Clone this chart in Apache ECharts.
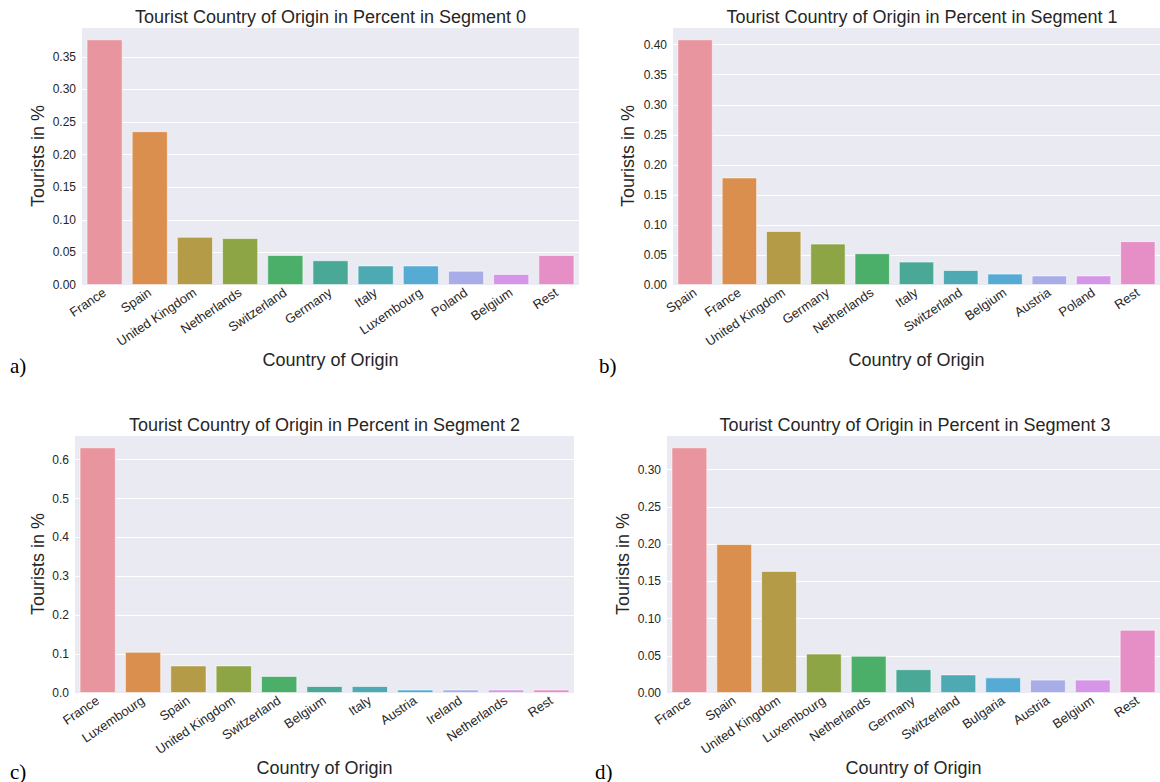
<!DOCTYPE html>
<html>
<head>
<meta charset="utf-8">
<script src="https://cdn.jsdelivr.net/npm/echarts@6/dist/echarts.min.js"></script>
<style>
  html, body { margin: 0; padding: 0; background: #ffffff; overflow: hidden; }
  #chart { width: 1160px; height: 782px; }
</style>
</head>
<body>
<div id="chart"></div>
<script>
// Share of tourists by country of origin, one bar chart per segment
const countries0 = ['France', 'Spain', 'United Kingdom', 'Netherlands', 'Switzerland', 'Germany', 'Italy', 'Luxembourg', 'Poland', 'Belgium', 'Rest'];
const share0 = [0.377, 0.236, 0.074, 0.072, 0.046, 0.038, 0.030, 0.030, 0.022, 0.017, 0.046];

const countries1 = ['Spain', 'France', 'United Kingdom', 'Germany', 'Netherlands', 'Italy', 'Switzerland', 'Belgium', 'Austria', 'Poland', 'Rest'];
const share1 = [0.409, 0.179, 0.090, 0.069, 0.053, 0.039, 0.025, 0.019, 0.016, 0.016, 0.073];

const countries2 = ['France', 'Luxembourg', 'Spain', 'United Kingdom', 'Switzerland', 'Belgium', 'Italy', 'Austria', 'Ireland', 'Netherlands', 'Rest'];
const share2 = [0.632, 0.106, 0.071, 0.071, 0.044, 0.018, 0.018, 0.009, 0.009, 0.009, 0.009];

const countries3 = ['France', 'Spain', 'United Kingdom', 'Luxembourg', 'Netherlands', 'Germany', 'Switzerland', 'Bulgaria', 'Austria', 'Belgium', 'Rest'];
const share3 = [0.330, 0.200, 0.164, 0.053, 0.050, 0.032, 0.025, 0.021, 0.018, 0.018, 0.085];

// y tick steps and decimals per segment
const tickStep = [0.05, 0.05, 0.1, 0.05];
const tickDecimals = [2, 2, 1, 2];

const segments = [
  { cats: countries0, vals: share0 },
  { cats: countries1, vals: share1 },
  { cats: countries2, vals: share2 },
  { cats: countries3, vals: share3 }
];

// bar colours by position (rank), same sequence in every panel
const palette = ['#E9959F', '#DA8F4E', '#B39B48', '#8EA546', '#4BAF6A', '#4AA996', '#4DA9B2', '#55ABD4', '#A8ADE8', '#D696E7', '#E68FC6'];

// panel layout (pixels)
const panels = [
  { left: 82,  top: 27,  width: 497, height: 258, yGap: 35, tag: 'a)', tagX: 10,  tagY: 355 },
  { left: 673, top: 27,  width: 498, height: 258, yGap: 36, tag: 'b)', tagX: 599, tagY: 355 },
  { left: 75,  top: 435, width: 499, height: 258, yGap: 28, tag: 'c)', tagX: 10,  tagY: 761 },
  { left: 667, top: 435, width: 496, height: 258, yGap: 35, tag: 'd)', tagX: 595, tagY: 761 }
];

const FONT = '"Liberation Sans", Arial, sans-serif';
const TXT = '#262626';

const grids = [], xAxes = [], yAxes = [], series = [], graphics = [];

segments.forEach((seg, i) => {
  const p = panels[i];
  const yMax = Math.max(...seg.vals) * 1.05;
  grids.push({
    left: p.left, top: p.top, width: p.width, height: p.height,
    show: true, backgroundColor: '#EAEAF2', borderWidth: 0, containLabel: false
  });
  xAxes.push({
    type: 'category', gridIndex: i, data: seg.cats,
    name: 'Country of Origin', nameLocation: 'middle', nameGap: 59,
    nameTextStyle: { fontFamily: FONT, fontSize: 18, color: TXT },
    axisLine: { show: false }, axisTick: { show: false },
    axisLabel: { interval: 0, rotate: 34, margin: 6, fontFamily: FONT, fontSize: 13, color: TXT }
  });
  yAxes.push({
    type: 'value', gridIndex: i, min: 0, max: yMax, interval: tickStep[i],
    name: 'Tourists in %', nameLocation: 'middle', nameGap: p.yGap,
    nameTextStyle: { fontFamily: FONT, fontSize: 18, color: TXT },
    axisLine: { show: false }, axisTick: { show: false },
    splitLine: { show: true, lineStyle: { color: '#ffffff', width: 1 } },
    axisLabel: {
      showMaxLabel: false, margin: 6, fontFamily: FONT, fontSize: 12, color: TXT,
      formatter: v => v.toFixed(tickDecimals[i])
    }
  });
  series.push({
    type: 'bar', xAxisIndex: i, yAxisIndex: i, data: seg.vals,
    barCategoryGap: '20%',
    itemStyle: {
      color: params => palette[params.dataIndex % palette.length],
      borderColor: 'rgba(255,255,255,0.55)', borderWidth: 1
    },
    emphasis: { disabled: true }
  });
  graphics.push({
    type: 'text', x: p.left + p.width / 2, y: p.top - 19,
    style: {
      text: 'Tourist Country of Origin in Percent in Segment ' + i,
      textAlign: 'center', textVerticalAlign: 'top',
      font: '18px ' + FONT, fill: TXT
    }
  });
  graphics.push({
    type: 'text', x: p.tagX, y: p.tagY,
    style: { text: p.tag, textVerticalAlign: 'top', font: '21px "Liberation Serif", "Times New Roman", serif', fill: '#000000' }
  });
});

const chart = echarts.init(document.getElementById('chart'), null, { renderer: 'svg' });
chart.setOption({
  animation: false,
  grid: grids,
  xAxis: xAxes,
  yAxis: yAxes,
  series: series,
  graphic: graphics
});
</script>
</body>
</html>
